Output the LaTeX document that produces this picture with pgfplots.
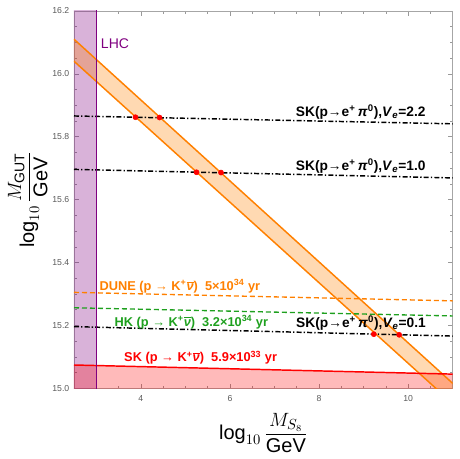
\documentclass[border=0pt]{standalone}
\usepackage{pgfplots}
\pgfplotsset{compat=1.18}
\usepackage{fontspec}
\setmainfont{Liberation Sans}
\definecolor{lhcpurple}{RGB}{128,0,128}
\definecolor{morange}{RGB}{255,128,0}
\definecolor{mgreen}{RGB}{30,160,30}
\definecolor{tickgray}{RGB}{90,90,90}
\begin{document}
\begin{tikzpicture}
\begin{axis}[name=ax, scale only axis, width=284pt, height=283pt,
  xmin=2.5, xmax=11, ymin=15, ymax=16.2,
  xtick={4,6,8,10}, ytick={15,15.2,15.4,15.6,15.8,16,16.2},
  minor xtick={2.5,3,...,11}, minor ytick={15,15.05,...,16.2},
  tick align=inside, axis line style={gray!70},
  every tick/.style={gray!80, line width=0.4pt},
  major tick length=3.5pt, minor tick length=2pt,
  ticklabel style={font=\fontsize{6.5}{7}\selectfont, color=tickgray},
  /pgf/number format/assume math mode=true,
  yticklabel style={/pgf/number format/fixed, /pgf/number format/fixed zerofill, /pgf/number format/precision=1},
  xticklabel style={yshift=-2pt},
  xlabel={\fontsize{15}{18}\selectfont$\displaystyle\log_{10}\frac{M_{S_8}}{\mathrm{GeV}}$},
  ylabel={\fontsize{15}{18}\selectfont$\displaystyle\log_{10}\frac{M_{\mathrm{GUT}}}{\mathrm{GeV}}$},
  x label style={at={(axis description cs:0.5,-0.118)},anchor=center},
  y label style={at={(axis description cs:-0.122,0.5)},anchor=center},
]
% fills
\addplot[draw=none, fill=lhcpurple, fill opacity=0.3] coordinates {(2.4,14.9) (3,14.9) (3,16.3) (2.4,16.3)} -- cycle;
\addplot[draw=none, fill=red, fill opacity=0.27] coordinates {(2.5,14.9) (2.5,15.074) (11,15.045) (11,14.9)} -- cycle;
\addplot[draw=none, fill=morange, fill opacity=0.3] coordinates {(2.5,16.11) (11.2,14.990) (10.7,14.990) (2.5,16.04)} -- cycle;
% band edges
\addplot[morange, line width=1.1pt] coordinates {(2.5,16.11) (11.2,14.990)};
\addplot[morange, line width=1.1pt] coordinates {(2.5,16.04) (10.7,14.990)};
% experimental lines
\addplot[black, line width=1.1pt, dash pattern=on 3.75pt off 1.6pt on 1pt off 1.6pt] coordinates {(2.5,15.866) (11,15.841)};
\addplot[black, line width=1.1pt, dash pattern=on 3.75pt off 1.6pt on 1pt off 1.6pt] coordinates {(2.5,15.696) (11,15.669)};
\addplot[black, line width=1.1pt, dash pattern=on 3.75pt off 1.6pt on 1pt off 1.6pt] coordinates {(2.5,15.196) (11,15.166)};
\addplot[morange, line width=1pt, dash pattern=on 3.75pt off 2.25pt] coordinates {(2.5,15.305) (11,15.278)};
\addplot[mgreen, line width=1pt, dash pattern=on 3.75pt off 2.25pt] coordinates {(2.5,15.256) (11,15.230)};
\addplot[red, line width=1.1pt] coordinates {(2.5,15.074) (11,15.045)};
% LHC
\addplot[lhcpurple, line width=1.1pt] coordinates {(3,14.9) (3,16.3)};
% intersections
\addplot[only marks, mark=*, mark size=1.9pt, red] coordinates {(3.88,15.862) (4.42,15.861) (5.25,15.687) (5.80,15.686) (9.23,15.172) (9.80,15.170)};
% labels
\node[anchor=base west, inner sep=0, text=lhcpurple, font=\fontsize{10.5}{12}\selectfont] at (axis cs:3.10,16.079) {LHC};
\node[anchor=base west, inner sep=0, font=\bfseries\fontsize{10.3}{12}\selectfont] at (axis cs:7.476,15.864) {SK(p→e\textsuperscript{+}\,\textit{π}\textsuperscript{0}),\textit{V}\textsubscript{\textit{e}}=2.2};
\node[anchor=base west, inner sep=0, font=\bfseries\fontsize{10.3}{12}\selectfont] at (axis cs:7.476,15.693) {SK(p→e\textsuperscript{+}\,\textit{π}\textsuperscript{0}),\textit{V}\textsubscript{\textit{e}}=1.0};
\node[anchor=base west, inner sep=0, font=\bfseries\fontsize{10.3}{12}\selectfont] at (axis cs:7.483,15.193) {SK(p→e\textsuperscript{+}\,\textit{π}\textsuperscript{0}),\textit{V}\textsubscript{\textit{e}}=0.1};
\node[anchor=base west, inner sep=0, text=morange, font=\bfseries\fontsize{9.6}{11}\selectfont] at (axis cs:3.068,15.310) {DUNE (p → K\textsuperscript{+}$\overline{\mbox{\textit{ν}}}$)\ \ 5×10\textsuperscript{34} yr};
\node[anchor=base west, inner sep=0, text=mgreen, font=\bfseries\fontsize{9.6}{11}\selectfont] at (axis cs:3.405,15.198) {HK (p → K\textsuperscript{+}$\overline{\mbox{\textit{ν}}}$)\ \ 3.2×10\textsuperscript{34} yr};
\node[anchor=base west, inner sep=0, text=red, font=\bfseries\fontsize{9.6}{11}\selectfont] at (axis cs:3.622,15.084) {SK (p → K\textsuperscript{+}$\overline{\mbox{\textit{ν}}}$)\ \ 5.9×10\textsuperscript{33} yr};
\end{axis}
\pgfresetboundingbox
\path (ax.south west) ++(-55.5pt,-52.3pt) rectangle ++(345pt,343.5pt);
\end{tikzpicture}
\end{document}
